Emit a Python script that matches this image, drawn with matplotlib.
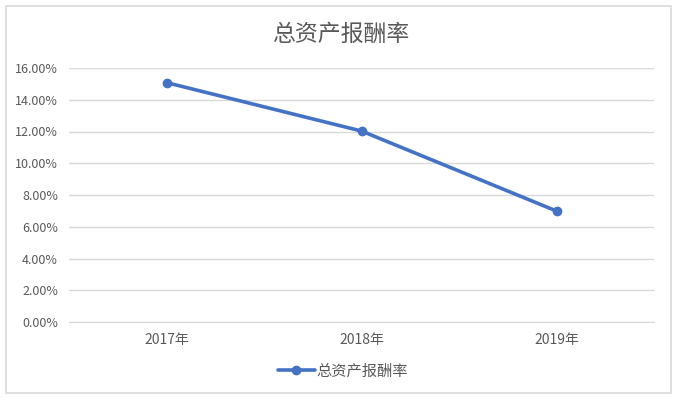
import matplotlib
matplotlib.use("Agg")
import matplotlib.pyplot as plt
from matplotlib.patches import Rectangle
from matplotlib.ticker import FuncFormatter

plt.rcParams['font.family'] = ['Noto Sans CJK SC', 'DejaVu Sans']

# data
years = ["2017年", "2018年", "2019年"]
roa = [15.08, 12.03, 6.99]
y_ticks = [0, 2, 4, 6, 8, 10, 12, 14, 16]
series_name = "总资产报酬率"

text_color = "#595959"
grid_color = "#D9D9D9"
line_color = "#4472C4"

fig = plt.figure(figsize=(6.82, 4.08), dpi=100)
W, H = 682, 408

# outer chart border
fig.patches.append(Rectangle((6 / W, 1 - 393 / H), 665 / W, 387 / H,
                             transform=fig.transFigure, fill=False,
                             edgecolor=grid_color, linewidth=1.2))

ax = fig.add_axes([69 / W, 1 - 322 / H, 585 / W, 254 / H])
x = list(range(len(years)))
ax.plot(x, roa, color=line_color, linewidth=2.6, marker="o",
        markersize=6, label=series_name, solid_capstyle="round")

ax.set_xlim(-0.5, len(years) - 0.5)
ax.set_ylim(0, 16)
ax.set_yticks(y_ticks)
ax.yaxis.set_major_formatter(FuncFormatter(lambda v, p: f"{v:.2f}%"))
ax.set_xticks(x)
ax.set_xticklabels(years)

ax.grid(axis="y", color=grid_color, linewidth=1)
ax.set_axisbelow(True)
for s in ["top", "right", "left"]:
    ax.spines[s].set_visible(False)
ax.spines["bottom"].set_color(grid_color)
ax.tick_params(axis="both", length=0, labelcolor=text_color, labelsize=9)
ax.tick_params(axis="x", pad=8, labelsize=10)
ax.tick_params(axis="y", pad=8)

fig.text(341 / W, 1 - 34 / H, series_name, ha="center", va="center",
         fontsize=16.5, color=text_color)

fig.legend(loc="center", bbox_to_anchor=(343 / W, 1 - 371 / H), frameon=False,
           fontsize=11, labelcolor=text_color, handlelength=2.4,
           handletextpad=0.1)

fig.savefig("out.png", dpi=100, facecolor="white")
